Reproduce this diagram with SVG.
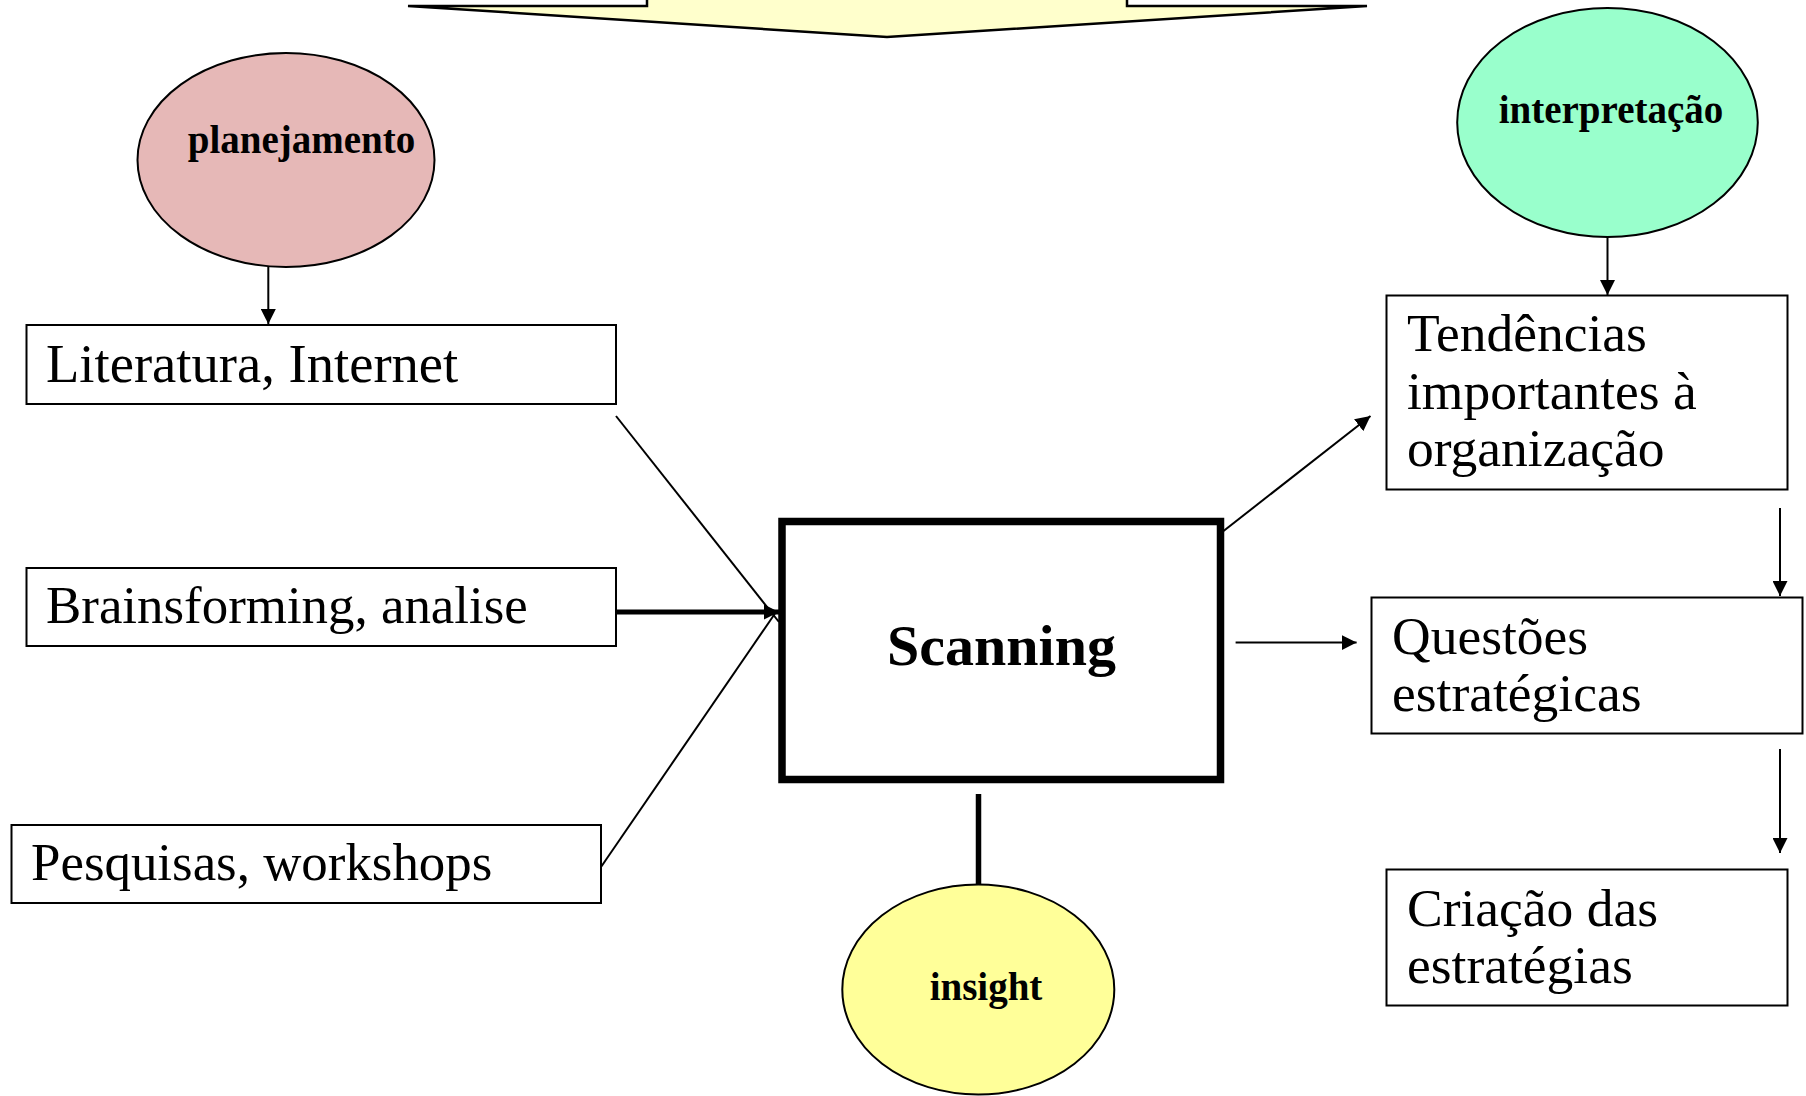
<svg xmlns="http://www.w3.org/2000/svg" width="1806" height="1096" viewBox="0 0 1806 1096">
  <style>
    .box { fill: #FFFFFF; stroke: #000000; stroke-width: 2; }
    .ell { stroke: #000000; stroke-width: 2; }
    .txt { font-family: "Liberation Serif", "Times New Roman", serif; font-size: 53.5px; fill: #000000; }
    .lbl { font-family: "Liberation Serif", "Times New Roman", serif; font-size: 39px; font-weight: bold; fill: #000000; text-anchor: middle; }
    .thin { stroke: #000000; stroke-width: 2; fill: none; }
  </style>
  <defs>
    <marker id="ah" viewBox="0 0 10 10" refX="10" refY="5" markerUnits="userSpaceOnUse" markerWidth="15" markerHeight="15" orient="auto">
      <path d="M0,0 L10,5 L0,10 Z" fill="#000000"/>
    </marker>
  </defs>
  <rect width="1806" height="1096" fill="#FFFFFF"/>

  <g id="top-arrow">
    <polygon points="408,6 647,6 647,-4 1127,-4 1127,6 1367,6 887,37" fill="#FFFFCC" stroke="#000000" stroke-width="2.5" stroke-linejoin="miter"/>
  </g>

  <g id="planejamento">
    <ellipse class="ell" cx="286" cy="160" rx="148.5" ry="107" fill="#E6B8B7"/>
    <text class="lbl" x="301.5" y="153">planejamento</text>
  </g>

  <g id="interpretacao">
    <ellipse class="ell" cx="1607.5" cy="122.5" rx="150.3" ry="114.6" fill="#99FFCC"/>
    <text class="lbl" x="1611" y="123">interpretação</text>
  </g>

  <g id="literatura">
    <rect class="box" x="26.5" y="325" width="589.5" height="79"/>
    <text class="txt" x="46" y="382" style="font-size:54.6px">Literatura, Internet</text>
  </g>

  <g id="brainsforming">
    <rect class="box" x="26.5" y="568" width="589.5" height="78"/>
    <text class="txt" x="46" y="623" style="font-size:52.9px">Brainsforming, analise</text>
  </g>

  <g id="pesquisas">
    <rect class="box" x="11.5" y="825" width="589.5" height="78"/>
    <text class="txt" x="31" y="880" style="font-size:52.9px">Pesquisas, workshops</text>
  </g>

  <g id="scanning">
    <rect x="782" y="521.5" width="438.5" height="258" fill="#FFFFFF" stroke="#000000" stroke-width="7.5"/>
    <text x="1001.5" y="665" font-family="Liberation Serif, Times New Roman, serif" font-size="58" font-weight="bold" text-anchor="middle" fill="#000000">Scanning</text>
  </g>

  <g id="insight">
    <ellipse class="ell" cx="978.3" cy="989.5" rx="136" ry="105" fill="#FFFF99"/>
    <text class="lbl" x="986" y="999.5">insight</text>
  </g>

  <g id="tendencias">
    <rect class="box" x="1386.5" y="295.5" width="401" height="194"/>
    <text class="txt" x="1407" y="351">Tendências</text>
    <text class="txt" x="1407" y="408.5">importantes à</text>
    <text class="txt" x="1407" y="466">organização</text>
  </g>

  <g id="questoes">
    <rect class="box" x="1371.5" y="597.5" width="431" height="136"/>
    <text class="txt" x="1392" y="654">Questões</text>
    <text class="txt" x="1392" y="711">estratégicas</text>
  </g>

  <g id="criacao">
    <rect class="box" x="1386.5" y="869.5" width="401" height="136"/>
    <text class="txt" x="1407" y="926">Criação das</text>
    <text class="txt" x="1407" y="982.5">estratégias</text>
  </g>

  <g id="connectors">
    <line class="thin" x1="268.3" y1="267" x2="268.3" y2="324" marker-end="url(#ah)"/>
    <line class="thin" x1="1607.5" y1="237" x2="1607.5" y2="295" marker-end="url(#ah)"/>
    <line class="thin" x1="616" y1="416" x2="779" y2="622"/>
    <line x1="616" y1="612" x2="779" y2="612" stroke="#000000" stroke-width="5" marker-end="url(#ah)"/>
    <line class="thin" x1="601" y1="867" x2="776" y2="612"/>
    <line class="thin" x1="1223.5" y1="531" x2="1370.5" y2="416" marker-end="url(#ah)"/>
    <line class="thin" x1="1235.6" y1="642.6" x2="1356.6" y2="642.6" marker-end="url(#ah)"/>
    <line class="thin" x1="1780" y1="508" x2="1780" y2="596" marker-end="url(#ah)"/>
    <line class="thin" x1="1780" y1="749" x2="1780" y2="853" marker-end="url(#ah)"/>
    <line x1="978.5" y1="794" x2="978.5" y2="884.5" stroke="#000000" stroke-width="5.5"/>
  </g>
</svg>
